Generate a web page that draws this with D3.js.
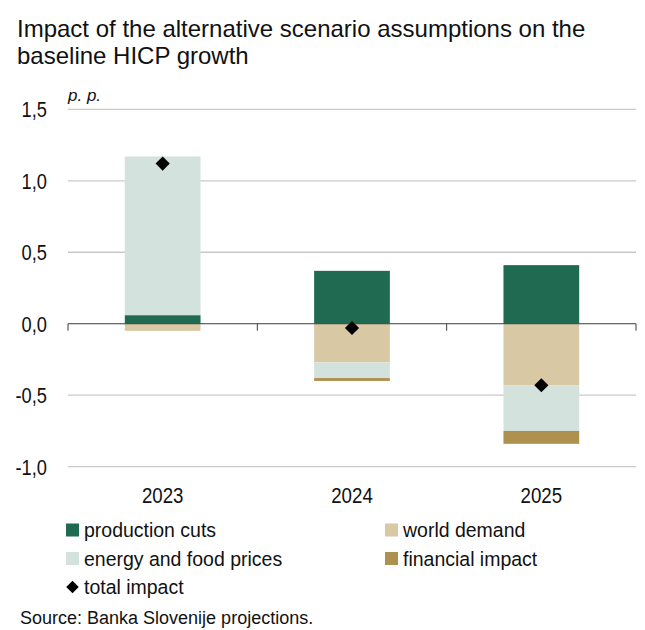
<!DOCTYPE html>
<html>
<head>
<meta charset="utf-8">
<script src="https://cdn.jsdelivr.net/npm/d3@7"></script>
<style>
  html, body { margin: 0; padding: 0; background: #fff; }
  svg { display: block; font-family: "Liberation Sans", Arial, sans-serif; }
</style>
</head>
<body>
<svg id="chart" width="645" height="630"></svg>
<script>
// Contributions to HICP growth, percentage points
const years = ["2023", "2024", "2025"];
const productionCuts = [0.06, 0.37, 0.41];
const worldDemand = [-0.05, -0.27, -0.43];
const energyFood = [1.11, -0.11, -0.32];
const financialImpact = [0.0, -0.02, -0.09];
const totalImpact = [1.12, -0.03, -0.43];

const yTicks = [-1.0, -0.5, 0.0, 0.5, 1.0, 1.5];

const seriesKeys = ["production", "world", "energy", "financial"];
const seriesLabels = {
  production: "production cuts",
  world: "world demand",
  energy: "energy and food prices",
  financial: "financial impact"
};
const colors = {
  production: "#1f6a50",
  world: "#d8c8a4",
  energy: "#d4e2dd",
  financial: "#ae914e"
};

const rows = years.map((y, i) => ({
  year: y,
  production: productionCuts[i],
  world: worldDemand[i],
  energy: energyFood[i],
  financial: financialImpact[i],
  total: totalImpact[i]
}));

const svg = d3.select("#chart");
const plot = { left: 68, right: 636, top: 109.3, bottom: 466.7 };

const x = d3.scaleBand()
  .domain(years)
  .range([plot.left, plot.right])
  .paddingInner(0.6)
  .paddingOuter(0.3);

const y = d3.scaleLinear()
  .domain([-1, 1.5])
  .range([plot.bottom, plot.top]);

const fmt = v => d3.format(".1f")(v).replace(".", ",").replace("−", "-");

// Axis numbers use a narrow, tall setting: squeeze each label horizontally
function condense(sel, factor) {
  sel.each(function () {
    const w = this.getComputedTextLength();
    d3.select(this)
      .attr("textLength", w * factor)
      .attr("lengthAdjust", "spacingAndGlyphs");
  });
}

// Title
const title = svg.append("text")
  .attr("x", 17).attr("y", 37)
  .attr("font-size", 24).attr("fill", "#111");
title.append("tspan").attr("x", 17).attr("y", 37)
  .text("Impact of the alternative scenario assumptions on the");
title.append("tspan").attr("x", 17).attr("y", 64)
  .text("baseline HICP growth");

// Unit label
svg.append("text")
  .attr("x", 68).attr("y", 101)
  .attr("font-size", 17).attr("font-style", "italic").attr("fill", "#111")
  .text("p. p.");

// Horizontal gridlines
svg.append("g")
  .selectAll("line")
  .data(yTicks.filter(t => t !== 0))
  .join("line")
  .attr("x1", plot.left).attr("x2", plot.right)
  .attr("y1", d => y(d)).attr("y2", d => y(d))
  .attr("stroke", "#c9c9c9").attr("stroke-width", 1.3);

// Y axis labels
svg.append("g")
  .selectAll("text")
  .data(yTicks)
  .join("text")
  .attr("x", 47).attr("y", d => y(d))
  .attr("dy", "0.36em")
  .attr("text-anchor", "end")
  .attr("font-size", 22).attr("fill", "#111")
  .text(fmt)
  .call(condense, 0.83);

// Stacked bars
const stack = d3.stack().keys(seriesKeys).offset(d3.stackOffsetDiverging);
const stacked = stack(rows);

svg.append("g")
  .selectAll("g")
  .data(stacked)
  .join("g")
  .attr("fill", d => colors[d.key])
  .selectAll("rect")
  .data(d => d)
  .join("rect")
  .attr("x", d => x(d.data.year))
  .attr("width", x.bandwidth())
  .attr("y", d => y(Math.max(d[0], d[1])))
  .attr("height", d => Math.abs(y(d[0]) - y(d[1])));

// Zero line with category ticks
svg.append("line")
  .attr("x1", plot.left).attr("x2", plot.right)
  .attr("y1", y(0)).attr("y2", y(0))
  .attr("stroke", "#3c3c3c").attr("stroke-width", 1);

const boundaries = [plot.left].concat(years.map(yr => x(yr) + x.bandwidth() / 2 + x.step() / 2));
svg.append("g")
  .selectAll("line")
  .data(boundaries)
  .join("line")
  .attr("x1", d => d).attr("x2", d => d)
  .attr("y1", y(0)).attr("y2", y(0) + 7)
  .attr("stroke", "#3c3c3c").attr("stroke-width", 1);

// Total impact markers
const diamond = d3.symbol().type(d3.symbolDiamond2).size(128);
svg.append("g")
  .selectAll("path")
  .data(rows)
  .join("path")
  .attr("transform", d => `translate(${x(d.year) + x.bandwidth() / 2},${y(d.total)})`)
  .attr("d", diamond)
  .attr("fill", "#000");

// Category labels
svg.append("g")
  .selectAll("text")
  .data(years)
  .join("text")
  .attr("x", d => x(d) + x.bandwidth() / 2)
  .attr("y", 503)
  .attr("text-anchor", "middle")
  .attr("font-size", 22.5).attr("fill", "#111")
  .text(d => d)
  .call(condense, 0.83);

// Legend
const legendItems = [
  { key: "production", col: 0, row: 0 },
  { key: "world", col: 1, row: 0 },
  { key: "energy", col: 0, row: 1 },
  { key: "financial", col: 1, row: 1 }
];
const colX = [66, 385];
const rowY = [530, 558.5, 587];

const legend = svg.append("g");
legendItems.forEach(it => {
  legend.append("rect")
    .attr("x", colX[it.col]).attr("y", rowY[it.row] - 6.5)
    .attr("width", 13).attr("height", 13)
    .attr("fill", colors[it.key]);
  legend.append("text")
    .attr("x", colX[it.col] + 18).attr("y", rowY[it.row])
    .attr("dy", "0.36em")
    .attr("font-size", 20.5).attr("fill", "#111")
    .text(seriesLabels[it.key])
    .call(condense, 0.95);
});
legend.append("path")
  .attr("transform", `translate(${colX[0] + 6.5},${rowY[2]})`)
  .attr("d", d3.symbol().type(d3.symbolDiamond2).size(100))
  .attr("fill", "#000");
legend.append("text")
  .attr("x", colX[0] + 18).attr("y", rowY[2])
  .attr("dy", "0.36em")
  .attr("font-size", 20.5).attr("fill", "#111")
  .text("total impact")
  .call(condense, 0.95);

// Source note
svg.append("text")
  .attr("x", 20).attr("y", 624)
  .attr("font-size", 18).attr("fill", "#111")
  .text("Source: Banka Slovenije projections.");
</script>
</body>
</html>
